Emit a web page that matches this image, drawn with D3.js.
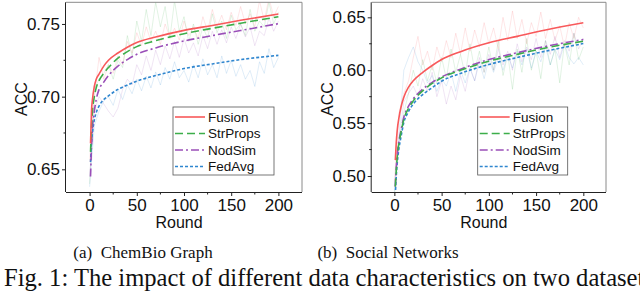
<!DOCTYPE html>
<html>
<head>
<meta charset="utf-8">
<script src="https://cdn.jsdelivr.net/npm/d3@7"></script>
<style>
  body { margin: 0; background: #fff; }
  svg { display: block; }
</style>
</head>
<body>
<div id="chart"></div>
<script>
(function (d3) {
  'use strict';

  const width = 640;
  const height = 305;

  const methods = ["Fusion", "StrProps", "NodSim", "FedAvg"];
  const colors = ["#f8595b", "#3cae4a", "#9a4fb8", "#2f86cf"];
  const dashes = [null, "8,4", "8,3,2,3", "3,2"];

  // rounds where the fitted curves were read
  const fitRounds = [1, 2, 3, 5, 7, 10, 15, 20, 30, 40, 50, 70, 100, 130, 160, 200];
  // rounds where the raw (faint) curves were read
  const rawRounds = d3.range(0, 201, 5);

  // (a) ChemBio Graph, fitted
  const chemFusion   = [0.668, 0.690, 0.698, 0.707, 0.712, 0.7155, 0.721, 0.725, 0.730, 0.734, 0.7372, 0.741, 0.7456, 0.749, 0.7525, 0.7568];
  const chemStrProps = [0.662, 0.680, 0.690, 0.700, 0.706, 0.711, 0.716, 0.720, 0.7265, 0.731, 0.7344, 0.7385, 0.7433, 0.747, 0.7505, 0.7550];
  const chemNodSim   = [0.645, 0.665, 0.678, 0.690, 0.698, 0.705, 0.710, 0.7145, 0.721, 0.7255, 0.7291, 0.7335, 0.7383, 0.742, 0.7455, 0.7502];
  const chemFedAvg   = [0.655, 0.668, 0.675, 0.684, 0.689, 0.6935, 0.698, 0.7005, 0.705, 0.708, 0.7107, 0.7145, 0.7193, 0.7225, 0.7255, 0.7284];

  // (a) ChemBio Graph, raw
  const chemFusionRaw = [0.655, 0.700, 0.727, 0.712, 0.722, 0.716, 0.728, 0.722, 0.738, 0.730, 0.744, 0.735, 0.748, 0.738, 0.745, 0.736, 0.750, 0.741, 0.747, 0.739, 0.752,
    0.742, 0.748, 0.740, 0.755, 0.745, 0.760, 0.748, 0.756, 0.746, 0.758, 0.749, 0.762, 0.750, 0.757, 0.748, 0.766, 0.752, 0.768, 0.755, 0.762];
  const chemStrPropsRaw = [0.640, 0.705, 0.712, 0.716, 0.722, 0.712, 0.725, 0.720, 0.742, 0.728, 0.752, 0.738, 0.760, 0.742, 0.765, 0.748, 0.762, 0.740, 0.766, 0.745, 0.755,
    0.738, 0.750, 0.736, 0.748, 0.740, 0.757, 0.744, 0.752, 0.740, 0.756, 0.746, 0.750, 0.742, 0.760, 0.745, 0.752, 0.748, 0.765, 0.750, 0.758];
  const chemNodSimRaw = [0.645, 0.690, 0.700, 0.695, 0.690, 0.686, 0.692, 0.705, 0.712, 0.708, 0.722, 0.715, 0.728, 0.718, 0.732, 0.722, 0.735, 0.726, 0.738, 0.727, 0.740,
    0.730, 0.737, 0.728, 0.742, 0.733, 0.745, 0.736, 0.746, 0.737, 0.748, 0.740, 0.750, 0.741, 0.748, 0.735, 0.745, 0.742, 0.754, 0.745, 0.752];
  const chemFedAvgRaw = [0.638, 0.680, 0.690, 0.697, 0.700, 0.694, 0.705, 0.698, 0.708, 0.702, 0.712, 0.704, 0.714, 0.706, 0.717, 0.708, 0.720, 0.712, 0.724, 0.713, 0.718,
    0.710, 0.722, 0.713, 0.726, 0.715, 0.722, 0.713, 0.728, 0.716, 0.725, 0.714, 0.722, 0.712, 0.718, 0.707, 0.724, 0.716, 0.733, 0.720, 0.727];

  // (b) Social Networks, fitted
  const socFusion   = [0.515, 0.532, 0.543, 0.556, 0.565, 0.5745, 0.584, 0.590, 0.598, 0.6045, 0.6101, 0.6175, 0.6259, 0.632, 0.638, 0.6448];
  const socStrProps = [0.490, 0.505, 0.518, 0.532, 0.541, 0.5535, 0.564, 0.571, 0.5805, 0.5875, 0.5928, 0.600, 0.6085, 0.615, 0.621, 0.6274];
  const socNodSim   = [0.490, 0.508, 0.520, 0.534, 0.543, 0.5555, 0.566, 0.573, 0.582, 0.5885, 0.5937, 0.601, 0.6101, 0.6165, 0.6225, 0.6290];
  const socFedAvg   = [0.482, 0.500, 0.512, 0.527, 0.537, 0.5505, 0.561, 0.568, 0.577, 0.5835, 0.5896, 0.597, 0.6054, 0.612, 0.618, 0.6252];

  // (b) Social Networks, raw
  const socFusionRaw = [0.495, 0.560, 0.578, 0.590, 0.612, 0.632, 0.605, 0.618, 0.600, 0.622, 0.608, 0.628, 0.612, 0.635, 0.615, 0.640, 0.618, 0.638, 0.622, 0.645, 0.625,
    0.640, 0.620, 0.650, 0.628, 0.656, 0.630, 0.648, 0.625, 0.645, 0.632, 0.655, 0.630, 0.648, 0.628, 0.642, 0.622, 0.645, 0.630, 0.650, 0.640];
  const socStrPropsRaw = [0.480, 0.530, 0.560, 0.578, 0.600, 0.585, 0.610, 0.590, 0.605, 0.588, 0.612, 0.592, 0.620, 0.598, 0.615, 0.595, 0.625, 0.600, 0.618, 0.598, 0.622,
    0.600, 0.628, 0.595, 0.615, 0.582, 0.620, 0.598, 0.630, 0.600, 0.618, 0.592, 0.628, 0.605, 0.620, 0.588, 0.625, 0.605, 0.635, 0.610, 0.622];
  const socNodSimRaw = [0.490, 0.535, 0.570, 0.578, 0.585, 0.575, 0.592, 0.580, 0.598, 0.575, 0.590, 0.568, 0.585, 0.572, 0.595, 0.580, 0.602, 0.590, 0.612, 0.598, 0.615,
    0.600, 0.620, 0.605, 0.618, 0.600, 0.625, 0.608, 0.622, 0.610, 0.630, 0.612, 0.628, 0.615, 0.632, 0.612, 0.628, 0.618, 0.635, 0.620, 0.630];
  const socFedAvgRaw = [0.485, 0.540, 0.600, 0.612, 0.622, 0.608, 0.600, 0.588, 0.595, 0.580, 0.592, 0.585, 0.598, 0.580, 0.600, 0.588, 0.602, 0.590, 0.608, 0.592, 0.610,
    0.598, 0.612, 0.600, 0.615, 0.602, 0.618, 0.605, 0.620, 0.602, 0.618, 0.608, 0.622, 0.605, 0.620, 0.610, 0.625, 0.612, 0.606, 0.612, 0.605];

  const xMajor = [0, 50, 100, 150, 200];
  const xMinor = [25, 75, 125, 175];
  const chemTicks = [0.65, 0.70, 0.75];
  const chemMinor = [0.675, 0.725];
  const socTicks = [0.50, 0.55, 0.60, 0.65];
  const socMinor = [0.525, 0.575, 0.625];

  const panels = [
    {
      left: 66, right: 302, top: 2.3, bottom: 192,
      xDomain: [-25, 225], yDomain: [0.6344, 0.7649],
      yTicks: chemTicks, yMinor: chemMinor,
      fit: [chemFusion, chemStrProps, chemNodSim, chemFedAvg],
      raw: [chemFusionRaw, chemStrPropsRaw, chemNodSimRaw, chemFedAvgRaw],
      legend: { x: 173, y: 107, w: 101, h: 68 },
      caption: "(a)\u2002ChemBio Graph", captionX: 143
    },
    {
      left: 371.7, right: 606, top: 2.3, bottom: 192,
      xDomain: [-24, 224], yDomain: [0.4849, 0.6642],
      yTicks: socTicks, yMinor: socMinor,
      fit: [socFusion, socStrProps, socNodSim, socFedAvg],
      raw: [socFusionRaw, socStrPropsRaw, socNodSimRaw, socFedAvgRaw],
      legend: { x: 477.7, y: 107, w: 90, h: 68 },
      caption: "(b)\u2002Social Networks", captionX: 388
    }
  ];

  const svg = d3.select("#chart").append("svg")
    .attr("width", width)
    .attr("height", height);

  const tickFont = "Liberation Sans, Arial, sans-serif";

  panels.forEach(function (p, pi) {
    const x = d3.scaleLinear().domain(p.xDomain).range([p.left, p.right]);
    const y = d3.scaleLinear().domain(p.yDomain).range([p.bottom, p.top]);

    const g = svg.append("g");

    const clipId = "clip" + pi;
    g.append("clipPath").attr("id", clipId)
      .append("rect")
      .attr("x", p.left).attr("y", p.top)
      .attr("width", p.right - p.left).attr("height", p.bottom - p.top);

    const plot = g.append("g").attr("clip-path", "url(#" + clipId + ")");

    // faint raw curves
    const rawLine = d3.line()
      .x(function (d, i) { return x(rawRounds[i]); })
      .y(function (d) { return y(d); });
    p.raw.forEach(function (series, si) {
      plot.append("path")
        .datum(series)
        .attr("d", rawLine)
        .style("fill", "none")
        .style("stroke", colors[si])
        .style("stroke-width", 1)
        .style("stroke-opacity", 0.15);
    });

    // fitted curves, drawn back to front so Fusion sits on top
    const fitLine = d3.line()
      .curve(d3.curveMonotoneX)
      .x(function (d, i) { return x(fitRounds[i]); })
      .y(function (d) { return y(d); });
    [3, 2, 1, 0].forEach(function (si) {
      plot.append("path")
        .datum(p.fit[si])
        .attr("d", fitLine)
        .style("fill", "none")
        .style("stroke", colors[si])
        .style("stroke-width", 1.6)
        .style("stroke-dasharray", dashes[si]);
    });

    // frame: top and right in gray
    g.append("line")
      .attr("x1", p.left).attr("x2", p.right).attr("y1", p.top).attr("y2", p.top)
      .style("stroke", "#8a8a8a").style("stroke-width", 1);
    g.append("line")
      .attr("x1", p.right).attr("x2", p.right).attr("y1", p.top).attr("y2", p.bottom)
      .style("stroke", "#8a8a8a").style("stroke-width", 1);

    // axes
    const xAxis = d3.axisBottom(x).tickValues(xMajor).tickSize(4).tickPadding(3).tickSizeOuter(0);
    const yAxis = d3.axisLeft(y).tickValues(p.yTicks).tickSize(4).tickPadding(2)
      .tickFormat(d3.format(".2f")).tickSizeOuter(0);

    const gx = g.append("g").attr("transform", "translate(0," + p.bottom + ")").call(xAxis);
    const gy = g.append("g").attr("transform", "translate(" + p.left + ",0)").call(yAxis);

    // minor ticks
    g.append("g").selectAll("line").data(xMinor).enter().append("line")
      .attr("x1", function (d) { return x(d); }).attr("x2", function (d) { return x(d); })
      .attr("y1", p.bottom).attr("y2", p.bottom + 2.5)
      .style("stroke", "#222");
    g.append("g").selectAll("line").data(p.yMinor).enter().append("line")
      .attr("y1", function (d) { return y(d); }).attr("y2", function (d) { return y(d); })
      .attr("x1", p.left).attr("x2", p.left - 2.5)
      .style("stroke", "#222");

    [gx, gy].forEach(function (a) {
      a.select(".domain").style("stroke", "#222");
      a.selectAll(".tick line").style("stroke", "#222");
      a.selectAll(".tick text")
        .style("font-family", tickFont)
        .style("font-size", "17px")
        .style("fill", "#111");
    });
    gx.select(".domain").attr("d", "M" + p.left + ",0.5H" + p.right);
    gy.select(".domain").attr("d", "M-0.5," + p.top + "V" + p.bottom);

    // axis titles
    g.append("text")
      .attr("x", (p.left + p.right) / 2 - 5)
      .attr("y", 228)
      .style("text-anchor", "middle")
      .style("font-family", tickFont)
      .style("font-size", "16px")
      .style("fill", "#111")
      .text("Round");
    g.append("text")
      .attr("transform", "translate(" + (p.left - 39) + "," + ((p.top + p.bottom) / 2 + 2) + ") rotate(-90)")
      .style("text-anchor", "middle")
      .style("font-family", tickFont)
      .style("font-size", "16px")
      .style("fill", "#111")
      .text("ACC");

    // legend
    const lg = g.append("g");
    lg.append("rect")
      .attr("x", p.legend.x).attr("y", p.legend.y)
      .attr("width", p.legend.w).attr("height", p.legend.h)
      .style("fill", "#fff")
      .style("stroke", "#555")
      .style("stroke-width", 0.8);
    methods.forEach(function (m, si) {
      const ly = p.legend.y + 10 + si * 16.5;
      lg.append("line")
        .attr("x1", p.legend.x + 2).attr("x2", p.legend.x + 32)
        .attr("y1", ly).attr("y2", ly)
        .style("stroke", colors[si])
        .style("stroke-width", 1.6)
        .style("stroke-dasharray", dashes[si]);
      lg.append("text")
        .attr("x", p.legend.x + 35)
        .attr("y", ly)
        .attr("dy", "0.35em")
        .style("font-family", tickFont)
        .style("font-size", "13.5px")
        .style("fill", "#111")
        .text(m);
    });

    // sub caption
    svg.append("text")
      .attr("x", p.captionX)
      .attr("y", 258)
      .style("text-anchor", "middle")
      .style("font-family", "Liberation Serif, Times New Roman, serif")
      .style("font-size", "17px")
      .style("fill", "#111")
      .text(p.caption);
  });

  // the figure caption runs past the right edge, as in the source crop
  svg.append("text")
    .attr("x", 4)
    .attr("y", 286)
    .style("font-family", "Liberation Serif, Times New Roman, serif")
    .style("font-size", "24.6px")
    .style("fill", "#111")
    .text("Fig. 1: The impact of different data characteristics on two datasets.");
}(d3));
</script>
</body>
</html>
